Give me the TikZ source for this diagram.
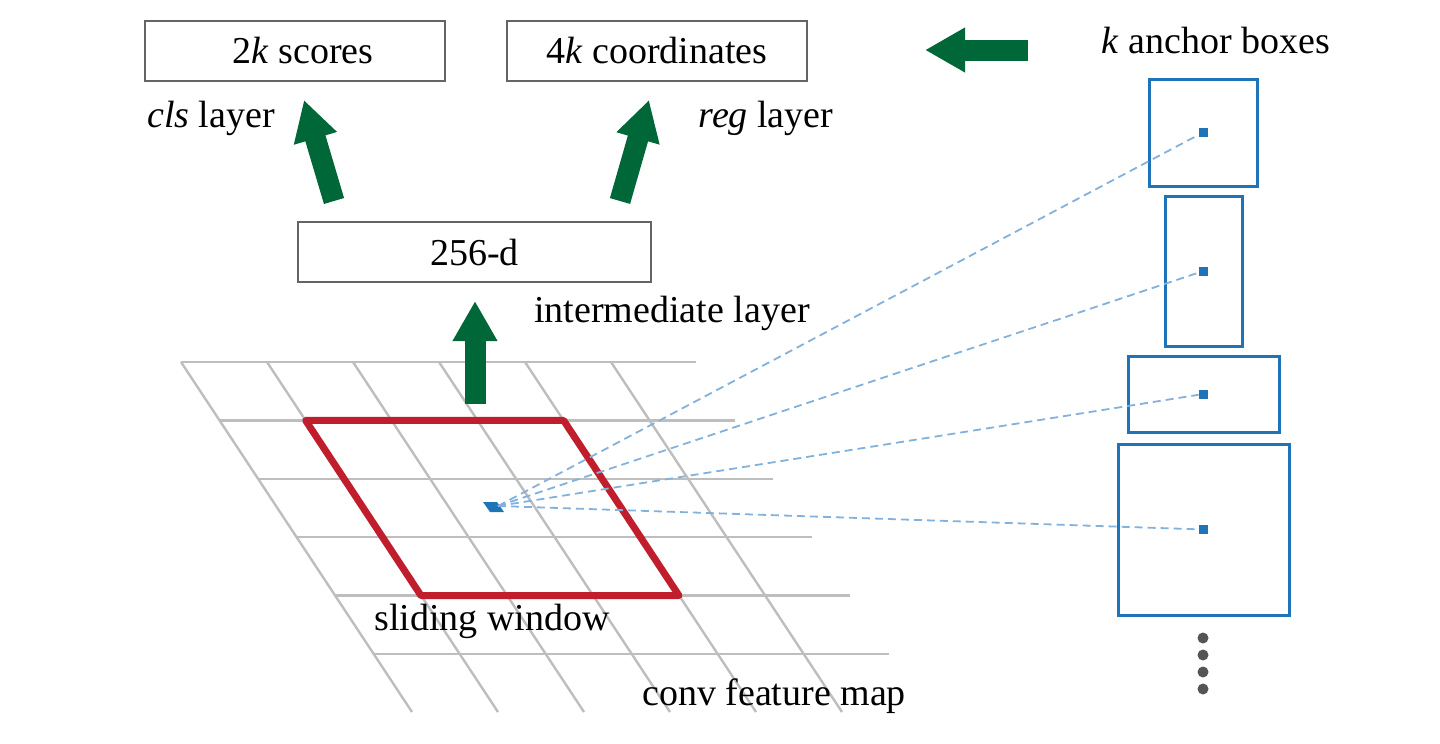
\documentclass[tikz,border=0pt]{standalone}
\usepackage{fontspec}
\setmainfont{Liberation Serif}
\usetikzlibrary{arrows.meta}
\definecolor{gridgray}{RGB}{190,190,190}
\definecolor{boxgray}{RGB}{100,100,100}
\definecolor{swred}{RGB}{193,30,45}
\definecolor{anchorblue}{RGB}{30,115,185}
\definecolor{dashblue}{RGB}{130,177,220}
\definecolor{arrowgreen}{RGB}{0,104,56}
\definecolor{dotgray}{RGB}{85,85,85}
\begin{document}
\begin{tikzpicture}[x=0.5pt,y=-0.5pt,
  gridline/.style={draw=gridgray,line width=1.2pt},
  window/.style={draw=swred,line width=3.5pt,line join=round},
  layerbox/.style={draw=boxgray,line width=1.25pt,inner sep=0pt,font=\fontsize{19}{22}\selectfont},
  lbl/.style={inner sep=0pt,font=\fontsize{19}{22}\selectfont},
  anchorbox/.style={draw=anchorblue,line width=1.5pt,inner sep=0pt},
  anchordot/.style={fill=anchorblue,inner sep=0pt,minimum size=4.5pt},
  moredot/.style={circle,fill=dotgray,inner sep=0pt,minimum size=5.5pt},
  ray/.style={draw=dashblue,line width=0.9pt,dash pattern=on 4pt off 2.5pt},
  bigarrow/.style={draw=arrowgreen,line width=10.5pt,-{Triangle[width=21pt,length=20pt]},fill=arrowgreen}
]
\useasboundingbox (0,0) rectangle (1440,744);
% grid
\foreach \i in {0,...,5}
  \draw[gridline] (181+38.6*\i,362+58.4*\i) -- (696+38.6*\i,362+58.4*\i);
\foreach \j in {0,...,5}
  \draw[gridline] (181+86*\j,362) -- (412+86*\j,712);
% sliding window
\draw[window] (305.6,420.4) -- (563.6,420.4) -- (679,595.6) -- (421,595.6) -- cycle;
% centre cell marker
\fill[anchorblue] (483,502) -- (497,502) -- (504,512) -- (490,512) -- cycle;
\coordinate (src) at (498,506);
% boxes
\node[layerbox,minimum width=150pt,minimum height=30pt] (cls) at (295,51) {\hspace*{8pt}2\textit{k} scores};
\node[layerbox,minimum width=150pt,minimum height=30pt] (reg) at (657,51) {4\textit{k} coordinates};
\node[layerbox,minimum width=176.5pt,minimum height=30pt] (mid) at (474.5,252) {256-d};
% labels
\node[lbl] (clslbl) at (211,118) {\textit{cls} layer};
\node[lbl] (reglbl) at (766,118) {\textit{reg} layer};
\node[lbl] (midlbl) at (672,313) {intermediate layer};
\node[lbl] (swlbl) at (492,621) {sliding window};
\node[lbl] (fmlbl) at (774,696) {conv feature map};
\node[lbl] (anclbl) at (1216,41) {\textit{k} anchor boxes};
% anchor boxes
\node[anchorbox,minimum width=54pt,minimum height=53.5pt] (a1) at (1203,132.5) {};
\node[anchorbox,minimum width=38.5pt,minimum height=75pt] (a2) at (1203.5,271) {};
\node[anchorbox,minimum width=75.5pt,minimum height=38pt] (a3) at (1203.5,394) {};
\node[anchorbox,minimum width=85.5pt,minimum height=85.5pt] (a4) at (1203.5,529.5) {};
\node[anchordot] (d1) at (a1.center) {};
\node[anchordot] (d2) at (a2.center) {};
\node[anchordot] (d3) at (a3.center) {};
\node[anchordot] (d4) at (a4.center) {};
\foreach \k in {1,...,4}
  \draw[ray] (src) -- (d\k);
\foreach \y [count=\n] in {638,655,672,689}
  \node[moredot] (m\n) at (1203,\y) {};
% green arrows
\coordinate (g1s) at (334,201);
\coordinate (g1e) at (304,100);
\coordinate (g2s) at (620,201);
\coordinate (g2e) at (649,100);
\coordinate (g3s) at (475,404);
\coordinate (g3e) at (475,301);
\coordinate (g4s) at (1028,50);
\coordinate (g4e) at (925,50);
\draw[bigarrow] (g1s) -- (g1e);
\draw[bigarrow] (g2s) -- (g2e);
\draw[bigarrow] (g3s) -- (g3e);
\draw[bigarrow] (g4s) -- (g4e);
\end{tikzpicture}
\end{document}
